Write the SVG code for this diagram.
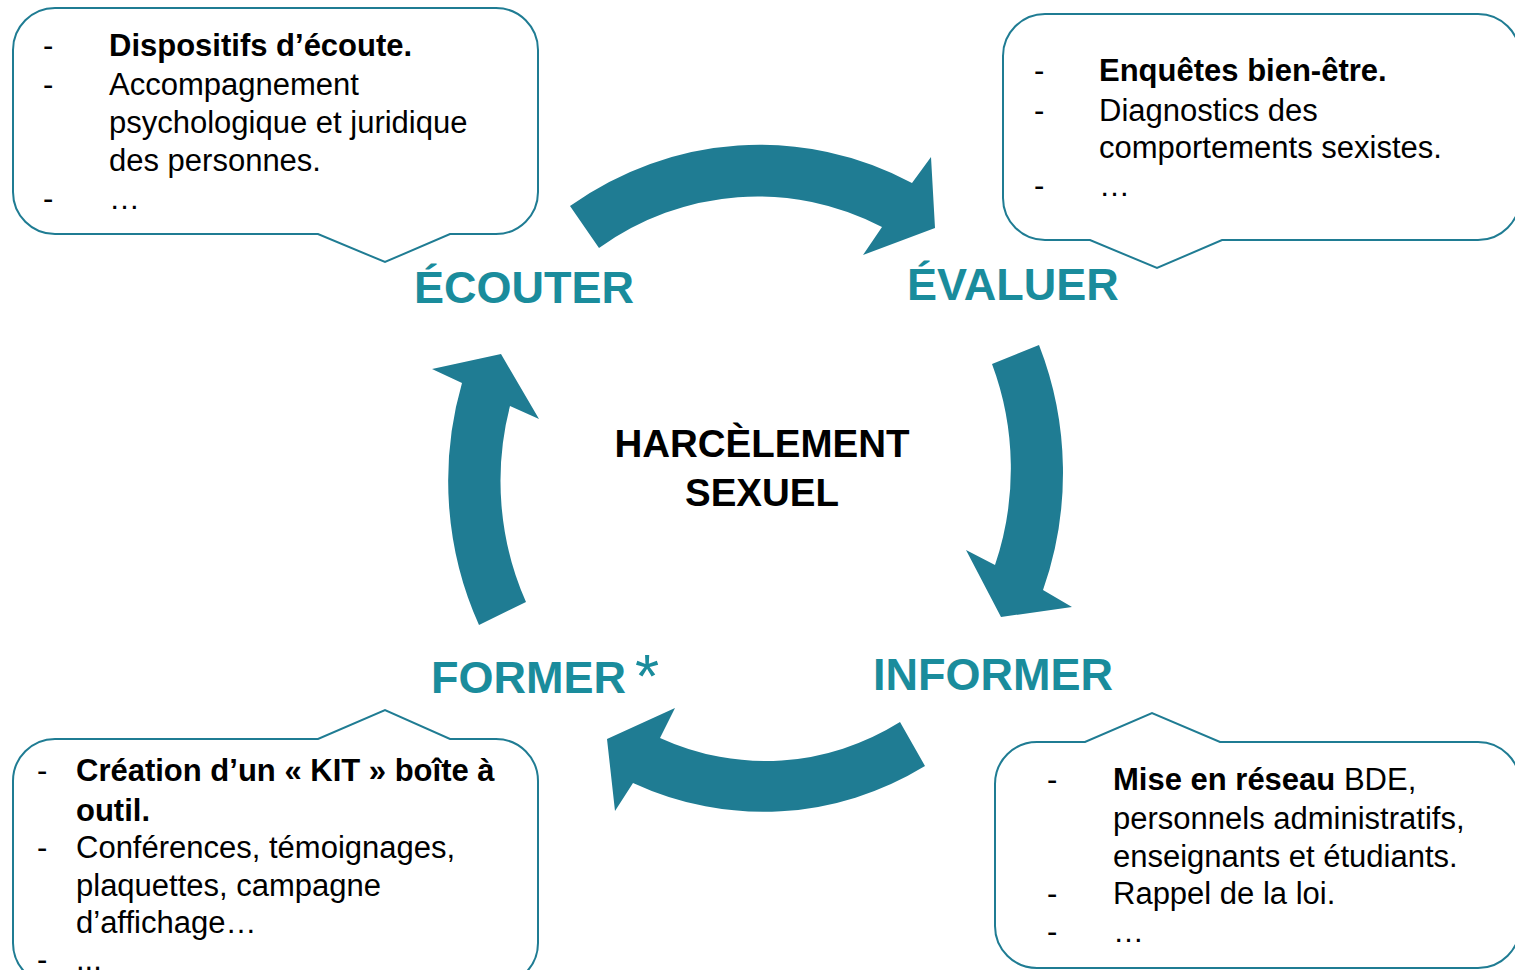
<svg xmlns="http://www.w3.org/2000/svg" width="1515" height="970" viewBox="0 0 1515 970">
<style>
.box{fill:#ffffff;stroke:#1F7C93;stroke-width:2}
.arrow{fill:#1F7C93}
.t{font-family:"Liberation Sans",Arial,sans-serif;font-size:31px;fill:#000}
.b{font-weight:bold}
.lbl{font-family:"Liberation Sans",Arial,sans-serif;font-size:45px;font-weight:bold;fill:#1A8C9C}
.ctr{font-family:"Liberation Sans",Arial,sans-serif;font-size:38.5px;font-weight:bold;fill:#000;text-anchor:middle}
</style>
<rect width="1515" height="970" fill="#ffffff"/>
<g id="connectors">
<path class="arrow" d="M 570,206 A 340 360 0 0 1 912,183 L 931,157 L 935,228 L 863,255 L 882,227 A 285 305 0 0 0 599,248 Z"/>
<path class="arrow" d="M 1039,345 A 309 331 0 0 1 1043,590 L 1072,607 L 1001,617 L 966,550 L 995,565 A 256 278 0 0 0 992,364 Z"/>
<path class="arrow" d="M 925,766 A 325 345 0 0 1 633,783 L 615,811 L 607,739 L 675,708 L 660,738 A 270 292 0 0 0 900,722 Z"/>
<path class="arrow" d="M 479,625 A 309 331 0 0 1 462,383 L 432,369 L 501,354 L 539,419 L 510,406 A 256 278 0 0 0 526,602 Z"/>
</g>
<g id="center">
<text class="ctr" x="762" y="457">HARCÈLEMENT</text>
<text class="ctr" x="762" y="506">SEXUEL</text>
</g>
<g id="ecouter">
<path class="box" d="M 55,8 H 496 A 42 42 0 0 1 538,50 V 192 A 42 42 0 0 1 496,234 H 450 L 385,262 L 318,234 H 55 A 42 42 0 0 1 13,192 V 50 A 42 42 0 0 1 55,8 Z"/>
<text class="t" x="43" y="56">-</text><text class="t b" x="109" y="56">Dispositifs d’écoute.</text>
<text class="t" x="43" y="95">-</text><text class="t" x="109" y="95">Accompagnement</text>
<text class="t" x="109" y="133">psychologique et juridique</text>
<text class="t" x="109" y="171">des personnes.</text>
<text class="t" x="43" y="209">-</text><text class="t" x="109" y="209">…</text>
<text class="lbl" x="414" y="303">ÉCOUTER</text>
</g>
<g id="evaluer">
<path class="box" d="M 1045,14 H 1478 A 42 42 0 0 1 1520,56 V 198 A 42 42 0 0 1 1478,240 H 1222 L 1157,268 L 1090,240 H 1045 A 42 42 0 0 1 1003,198 V 56 A 42 42 0 0 1 1045,14 Z"/>
<text class="t" x="1034" y="81">-</text><text class="t b" x="1099" y="81">Enquêtes bien-être.</text>
<text class="t" x="1034" y="121">-</text><text class="t" x="1099" y="121">Diagnostics des</text>
<text class="t" x="1099" y="158">comportements sexistes.</text>
<text class="t" x="1034" y="196">-</text><text class="t" x="1099" y="196">…</text>
<text class="lbl" x="907" y="300">ÉVALUER</text>
</g>
<g id="informer">
<path class="box" d="M 1037,742 H 1085 L 1152,713 L 1220,742 H 1478 A 42 42 0 0 1 1520,784 V 926 A 42 42 0 0 1 1478,968 H 1037 A 42 42 0 0 1 995,926 V 784 A 42 42 0 0 1 1037,742 Z"/>
<text class="t" x="1047" y="790">-</text><text class="t" x="1113" y="790"><tspan class="b">Mise en réseau</tspan> BDE,</text>
<text class="t" x="1113" y="829">personnels administratifs,</text>
<text class="t" x="1113" y="867">enseignants et étudiants.</text>
<text class="t" x="1047" y="904">-</text><text class="t" x="1113" y="904">Rappel de la loi.</text>
<text class="t" x="1047" y="942">-</text><text class="t" x="1113" y="942">…</text>
<text class="lbl" x="873" y="690">INFORMER</text>
</g>
<g id="former">
<path class="box" d="M 55,739 H 318 L 385,710 L 450,739 H 496 A 42 42 0 0 1 538,781 V 943 A 42 42 0 0 1 496,985 H 55 A 42 42 0 0 1 13,943 V 781 A 42 42 0 0 1 55,739 Z"/>
<text class="t" x="37" y="781">-</text><text class="t b" x="76" y="781">Création d’un « KIT » boîte à</text>
<text class="t b" x="76" y="821">outil.</text>
<text class="t" x="37" y="858">-</text><text class="t" x="76" y="858">Conférences, témoignages,</text>
<text class="t" x="76" y="896">plaquettes, campagne</text>
<text class="t" x="76" y="933">d’affichage…</text>
<text class="t" x="37" y="970">-</text><text class="t" x="76" y="970">...</text>
<text class="lbl" x="431" y="693">FORMER</text>
<text class="lbl" x="635" y="697" style="font-size:62px;font-weight:normal">*</text>
</g>
</svg>
